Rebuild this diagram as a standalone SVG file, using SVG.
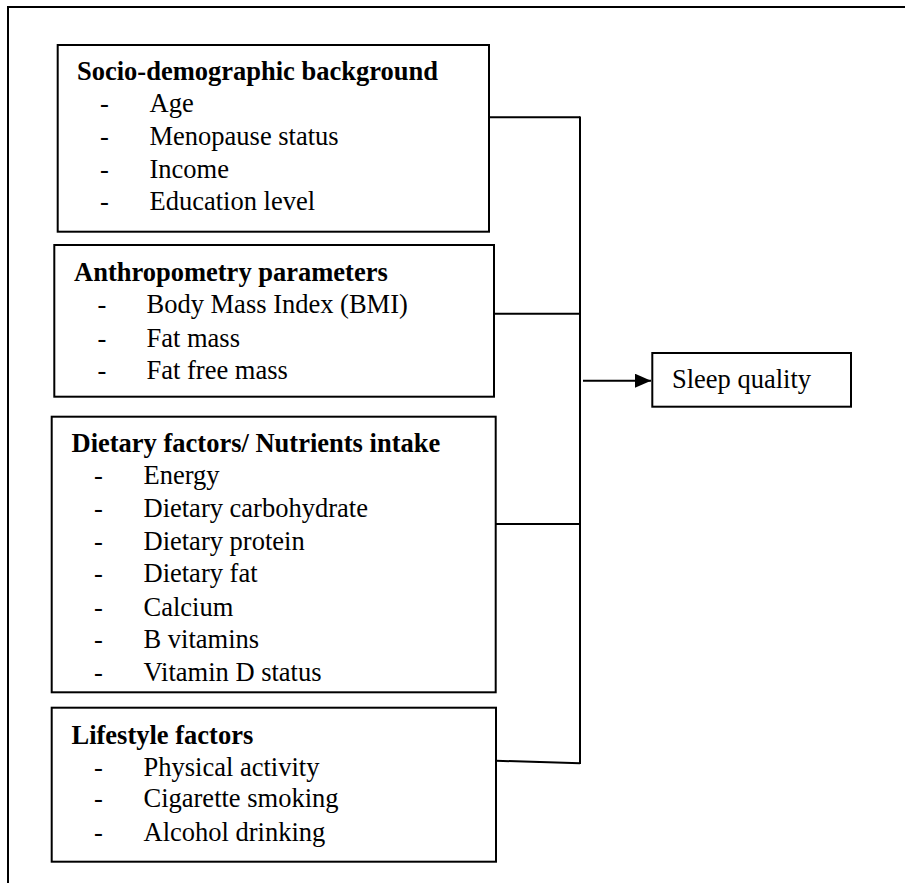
<svg xmlns="http://www.w3.org/2000/svg" width="905" height="883" viewBox="0 0 905 883">
<defs>
<style>
.box{fill:#fff;stroke:#000;stroke-width:2}
.t{font-family:"Liberation Serif","Times New Roman",serif;font-size:26.5px;fill:#000}
.b{font-weight:bold}
.c{fill:none;stroke:#000;stroke-width:2}
</style>
<marker id="arr" markerWidth="16" markerHeight="14" refX="16" refY="7" orient="auto" markerUnits="userSpaceOnUse">
<path d="M0,0 L16,7 L0,14 Z" fill="#000"/>
</marker>
</defs>
<rect width="905" height="883" fill="#fff"/>
<g id="frame"><path d="M8,883 V7 H905" fill="none" stroke="#000" stroke-width="2"/></g>

<g id="connectors">
<path class="c" d="M489,117.3 H580"/>
<path class="c" d="M494,313.7 H580"/>
<path class="c" d="M495.7,524 H580"/>
<path class="c" d="M496,760.7 L580,763.3"/>
<path class="c" d="M580,116.5 V764"/>
<path class="c" d="M583,380.7 H651" marker-end="url(#arr)"/>
</g>

<g id="socio">
<rect class="box" x="57.7" y="45" width="431.3" height="186.7"/>
<text class="t b" x="77" y="80">Socio-demographic background</text>
<text class="t" x="100" y="111.7">-</text><text class="t" x="149.5" y="111.7">Age</text>
<text class="t" x="100" y="145">-</text><text class="t" x="149.5" y="145">Menopause status</text>
<text class="t" x="100" y="177.7">-</text><text class="t" x="149.5" y="177.7">Income</text>
<text class="t" x="100" y="210">-</text><text class="t" x="149.5" y="210">Education level</text>
</g>

<g id="anthro">
<rect class="box" x="54.3" y="245" width="439.7" height="151.7"/>
<text class="t b" x="74" y="280.7">Anthropometry parameters</text>
<text class="t" x="97.5" y="312.7">-</text><text class="t" x="146.5" y="312.7">Body Mass Index (BMI)</text>
<text class="t" x="97.5" y="346.7">-</text><text class="t" x="146.5" y="346.7">Fat mass</text>
<text class="t" x="97.5" y="379.3">-</text><text class="t" x="146.5" y="379.3">Fat free mass</text>
</g>

<g id="dietary">
<rect class="box" x="51.7" y="416.7" width="444" height="275.6"/>
<text class="t b" x="71.5" y="451.7">Dietary factors/ Nutrients intake</text>
<text class="t" x="94" y="484">-</text><text class="t" x="143.5" y="484">Energy</text>
<text class="t" x="94" y="516.7">-</text><text class="t" x="143.5" y="516.7">Dietary carbohydrate</text>
<text class="t" x="94" y="550">-</text><text class="t" x="143.5" y="550">Dietary protein</text>
<text class="t" x="94" y="582.3">-</text><text class="t" x="143.5" y="582.3">Dietary fat</text>
<text class="t" x="94" y="615.5">-</text><text class="t" x="143.5" y="615.5">Calcium</text>
<text class="t" x="94" y="648.3">-</text><text class="t" x="143.5" y="648.3">B vitamins</text>
<text class="t" x="94" y="681">-</text><text class="t" x="143.5" y="681">Vitamin D status</text>
</g>

<g id="lifestyle">
<rect class="box" x="51.7" y="707.7" width="444.3" height="154"/>
<text class="t b" x="71.5" y="744">Lifestyle factors</text>
<text class="t" x="94" y="775.7">-</text><text class="t" x="143.5" y="775.7">Physical activity</text>
<text class="t" x="94" y="807.3">-</text><text class="t" x="143.5" y="807.3">Cigarette smoking</text>
<text class="t" x="94" y="840.7">-</text><text class="t" x="143.5" y="840.7">Alcohol drinking</text>
</g>

<g id="sleep">
<rect class="box" x="652.3" y="353" width="198.7" height="53.7"/>
<text class="t" x="672" y="388">Sleep quality</text>
</g>
</svg>
